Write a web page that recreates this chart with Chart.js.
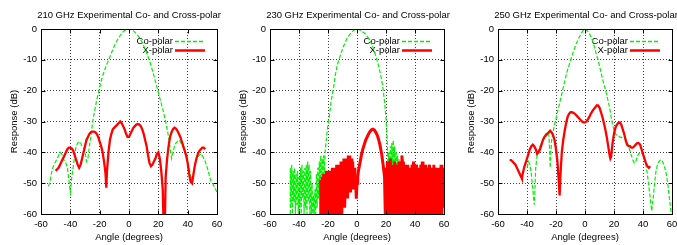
<!DOCTYPE html>
<html>
<head>
<meta charset="utf-8">
<script src="https://cdn.jsdelivr.net/npm/chart.js@4"></script>
<style>
  body { margin: 0; width: 677px; height: 245px; overflow: hidden; background: #fff; position: relative; }
  canvas { position: absolute; top: 0; }
</style>
</head>
<body>
<canvas id="c210" width="258" height="245" style="left:0px"></canvas>
<canvas id="c230" width="258" height="245" style="left:229px"></canvas>
<canvas id="c250" width="258" height="245" style="left:457px"></canvas>
<script>
'use strict';

// AXES
const angleRange = [-60, 60];
const dbRange = [-60, 0];
const panelTitles = [
  '210 GHz Experimental Co- and Cross-polar',
  '230 GHz Experimental Co- and Cross-polar',
  '250 GHz Experimental Co- and Cross-polar'
];
const seriesNames = ['Co-polar', 'X-polar'];

// DATA: [angle (deg), response (dB)]
const co210 = [[-55,-51],[-54,-50],[-53,-47],[-52,-45],[-51,-44],[-50,-43],[-49,-42],[-48,-41],[-47,-40],[-46,-40.5],[-45,-41.5],[-44,-43],[-43,-43.5],[-42,-45],[-41,-49],[-40,-53],[-39,-48],[-38,-44.5],[-37,-41],[-36,-38],[-35,-37],[-34,-36.5],[-33,-37],[-32,-38],[-31,-38.5],[-30,-40],[-29,-43],[-28,-42],[-27,-38],[-26,-35],[-25,-31],[-24,-28],[-23,-25.5],[-22,-23],[-21,-21],[-20,-19],[-19,-17],[-18,-15.3],[-17,-13.8],[-16,-12.5],[-15,-11.3],[-14,-10.2],[-13,-9],[-12,-7.8],[-11,-6.6],[-10,-5.5],[-9,-4.5],[-8,-3.6],[-7,-2.9],[-6,-2.1],[-5,-1.5],[-4,-0.9],[-3,-0.5],[-2,-0.2],[-1,0],[0,0],[1,-0.1],[2,-0.3],[3,-0.6],[4,-1],[5,-1.5],[6,-2.1],[7,-2.7],[8,-3.5],[9,-4.4],[10,-5.4],[11,-6.5],[12,-7.7],[13,-9],[14,-10.3],[15,-11.8],[16,-13.5],[17,-15.2],[18,-17],[19,-18.8],[20,-20.6],[21,-22.4],[22,-24.2],[23,-26],[24,-28],[25,-30],[26,-32.5],[27,-35],[28,-38.5],[29,-42],[30,-40],[31,-38],[32,-37],[33,-36.5],[34,-36],[35,-36.5],[36,-37.5],[37,-38.5],[38,-40],[39,-41.5],[40,-43],[41,-45],[42,-47.5],[43,-49],[44,-46.5],[45,-44],[46,-42.5],[47,-41.5],[48,-41],[49,-40.5],[50,-41],[51,-42],[52,-43],[53,-44.5],[54,-46],[55,-48],[56,-49.5],[57,-50],[58,-51],[59,-52],[60,-53]];
const x210 = [[-50,-46],[-49,-45.5],[-48,-45],[-47,-44],[-46,-43],[-45,-42],[-44,-41],[-43,-40],[-42,-39],[-41,-38.5],[-40,-38.5],[-39,-38.8],[-38,-39.5],[-37,-41],[-36,-42.5],[-35,-44],[-34,-45],[-33,-44],[-32,-42],[-31,-40],[-30,-38],[-29,-36],[-28,-35],[-27,-34],[-26,-33.5],[-25,-33.3],[-24,-33.3],[-23,-33.5],[-22,-34],[-21,-35],[-20,-36.5],[-19,-38],[-18,-40],[-17,-43],[-16,-47],[-15.5,-51.5],[-15,-46],[-14,-40],[-13,-36],[-12,-34],[-11,-32.5],[-10,-32],[-9,-31.5],[-8,-31],[-7,-30.5],[-6,-30],[-5,-30.5],[-4,-31.5],[-3,-32.5],[-2,-34],[-1,-35],[0,-35],[1,-34],[2,-33],[3,-32],[4,-31.5],[5,-31],[6,-30.8],[7,-31],[8,-31.5],[9,-32.5],[10,-34],[11,-36],[12,-38],[13,-41],[14,-43.5],[15,-44.5],[16,-44],[17,-43],[18,-42],[19,-40.5],[20,-40],[21,-42],[22,-46],[23,-52],[23.5,-62],[24.5,-62],[25,-48],[26,-42],[27,-38],[28,-35],[29,-33.5],[30,-32.5],[31,-32],[32,-32.3],[33,-33],[34,-34],[35,-35],[36,-36.5],[37,-38],[38,-39.5],[39,-41],[40,-43.5],[41,-47],[42,-49.5],[43,-50],[44,-47],[45,-44],[46,-42],[47,-40.5],[48,-39.5],[49,-39],[50,-38.5],[51,-38.5],[52,-39]];

const co230 = [[-46,-60],[-46,-45],[-45.5,-58],[-45,-44],[-44.5,-60],[-44,-46],[-43.5,-56],[-43,-45],[-42.5,-60],[-42,-47],[-41.5,-57],[-41,-46],[-40.5,-60],[-40,-48],[-39.5,-58],[-39,-45],[-38.5,-60],[-38,-44],[-37.5,-55],[-37,-46],[-36.5,-60],[-36,-45],[-35.5,-58],[-35,-44],[-34.5,-60],[-34,-43],[-33.5,-56],[-33,-44],[-32.5,-60],[-32,-46],[-31.5,-60],[-31,-50],[-30.5,-60],[-30,-54],[-29.5,-60],[-29,-52],[-28.5,-60],[-28,-47],[-27.5,-58],[-27,-45],[-26.5,-55],[-26,-43],[-25.5,-54],[-25,-41],[-24.5,-52],[-24,-42],[-23.5,-50],[-23,-41],[-22.5,-48],[-22,-40],[-21,-35],[-20,-31],[-19,-28],[-18,-24],[-17,-21],[-16,-18.5],[-15,-15],[-14,-12.7],[-13,-10.7],[-12,-9.3],[-11,-7.9],[-10,-6.5],[-9,-5.3],[-8,-4.2],[-7,-3.2],[-6,-2.4],[-5,-1.8],[-4,-1.2],[-3,-0.7],[-2,-0.3],[-1,-0.1],[0,0],[1,-0.1],[2,-0.3],[3,-0.6],[4,-1],[5,-1.3],[6,-1.7],[7,-2.3],[8,-3],[9,-3.9],[10,-4.8],[11,-6],[12,-7.3],[13,-8.8],[14,-10.5],[15,-12.2],[16,-14.2],[17,-16.5],[18,-19.5],[19,-23.5],[20,-29],[20.5,-33],[21,-38],[21.5,-46],[22,-40],[22.5,-48],[23,-38],[23.5,-45],[24,-37],[24.5,-44],[25,-36],[25.5,-45],[26,-38],[26.5,-47],[27,-40],[27.5,-50],[28,-41],[28.5,-52],[29,-42],[29.5,-55],[30,-43],[30.5,-54],[31,-41],[31.5,-56],[32,-42],[32.5,-58],[33,-45],[33.5,-60],[34,-46],[34.5,-60],[35,-48],[35.5,-60],[36,-50],[36.5,-60],[37,-52],[37.5,-60],[38,-51],[38.5,-60],[39,-53],[39.5,-60],[40,-52],[40.5,-60],[41,-50],[41.5,-58],[42,-51],[42.5,-60],[43,-52],[43.5,-60],[44,-54],[44.5,-60],[45,-55],[45.5,-60],[46,-56],[46.5,-60],[47,-55],[47.5,-60],[48,-57],[48.5,-60],[49,-56],[49.5,-60],[50,-58]];
const x230 = [[-25,-60],[-25,-49],[-24.5,-60],[-24,-48],[-23.5,-60],[-23,-47],[-22.5,-58],[-22,-48],[-21.5,-60],[-21,-46],[-20.5,-60],[-20,-47],[-19.5,-57],[-19,-46],[-18.5,-60],[-18,-47],[-17.5,-60],[-17,-45],[-16.5,-58],[-16,-46],[-15.5,-60],[-15,-45],[-14.5,-60],[-14,-44],[-13.5,-59],[-13,-45],[-12.5,-60],[-12,-44],[-11.5,-57],[-11,-43],[-10.5,-60],[-10,-44],[-9.5,-56],[-9,-42],[-8.5,-58],[-8,-43],[-7.5,-54],[-7,-42],[-6.5,-55],[-6,-41],[-5.5,-52],[-5,-41],[-4.5,-53],[-4,-42],[-3.5,-50],[-3,-43],[-2.5,-52],[-2,-45],[-1.5,-50],[-1,-48],[-0.5,-55],[0,-50],[0.5,-48],[1,-46],[2,-43.5],[3,-41],[4,-39],[5,-37.5],[6,-36],[7,-35],[8,-34],[9,-33.2],[10,-32.7],[11,-32.5],[12,-32.8],[13,-33.5],[14,-34.5],[15,-36],[16,-38],[17,-40.5],[18,-44],[19,-48],[19.5,-60],[20,-45],[20.5,-60],[21,-43],[21.5,-56],[22,-44],[22.5,-60],[23,-42],[23.5,-54],[24,-44],[24.5,-60],[25,-45],[25.5,-58],[26,-43],[26.5,-60],[27,-44],[27.5,-55],[28,-45],[28.5,-60],[29,-43],[29.5,-57],[30,-44],[30.5,-60],[31,-41],[31.5,-53],[32,-43],[32.5,-60],[33,-44],[33.5,-58],[34,-45],[34.5,-60],[35,-44],[35.5,-54],[36,-46],[36.5,-60],[37,-45],[37.5,-52],[38,-44],[38.5,-60],[39,-43],[39.5,-56],[40,-45],[40.5,-60],[41,-44],[41.5,-51],[42,-46],[42.5,-60],[43,-45],[43.5,-55],[44,-44],[44.5,-60],[45,-43],[45.5,-53],[46,-45],[46.5,-60],[47,-44],[47.5,-56],[48,-46],[48.5,-60],[49,-45],[49.5,-52],[50,-44],[50.5,-60],[51,-46],[51.5,-57],[52,-45],[52.5,-60],[53,-44],[53.5,-54],[54,-46],[54.5,-60],[55,-45],[55.5,-56],[56,-47],[56.5,-60],[57,-45],[57.5,-53],[58,-44],[58.5,-60],[59,-45],[59.5,-58],[60,-46]];

const co250 = [[-40,-45],[-39,-43],[-38,-44],[-37,-47],[-36,-52],[-35,-57],[-34.5,-52],[-34,-45],[-33,-41],[-32,-39],[-31,-38],[-30,-37],[-29,-36],[-28,-35],[-27,-34],[-26,-33.5],[-25,-34],[-24.5,-38],[-24,-45],[-23.5,-40],[-23,-36],[-22,-33.5],[-21,-31],[-20,-29],[-19,-27],[-18,-25],[-17,-23],[-16,-21],[-15,-19],[-14,-17],[-13,-15],[-12,-13.2],[-11,-11.7],[-10,-10.3],[-9,-8.8],[-8,-7.3],[-7,-6],[-6,-4.8],[-5,-3.7],[-4,-2.7],[-3,-1.8],[-2,-1],[-1,-0.4],[0,0],[1,-0.3],[2,-0.8],[3,-1.5],[4,-2.4],[5,-3.5],[6,-5],[7,-6.7],[8,-8.5],[9,-10],[10,-12],[11,-14],[12,-16],[13,-17.8],[14,-19.5],[15,-21.5],[16,-23.5],[17,-25.6],[18,-28.5],[19,-31],[20,-32.8],[21,-34],[22,-34.5],[23,-34.8],[24,-35],[25,-35.2],[26,-35],[27,-35.2],[28,-35.5],[29,-36.5],[30,-38],[31,-39.5],[32,-41],[33,-42.5],[34,-43.5],[35,-43],[36,-41.5],[37,-40.5],[38,-40],[39,-40],[40,-41],[41,-42.5],[42,-44],[43,-47],[44,-51],[45,-55],[46,-59],[47,-55],[48,-50],[49,-46],[50,-44],[51,-43],[52,-42.5],[53,-42.5],[54,-43.5],[55,-45],[56,-47],[57,-50],[58,-54],[59,-58],[60,-61]];
const x250 = [[-52,-42.5],[-51,-42.5],[-50,-43],[-49,-43.5],[-48,-44],[-47,-45],[-46,-46],[-45,-47],[-44,-48],[-43.5,-48.5],[-43,-47],[-42,-45],[-41,-43.5],[-40,-42],[-39,-40.5],[-38,-39],[-37,-38],[-36,-37.5],[-35,-38],[-34,-39],[-33,-40.5],[-32,-40],[-31,-39],[-30,-37.5],[-29,-36],[-28,-35],[-27,-34.5],[-26,-34],[-25,-33.5],[-24,-33],[-23,-33.5],[-22,-34.5],[-21,-36],[-20,-39],[-19,-43],[-18,-50],[-17.5,-54],[-17,-48],[-16,-40],[-15,-36],[-14,-33],[-13,-30.5],[-12,-28.5],[-11,-27.5],[-10,-27],[-9,-27],[-8,-27.2],[-7,-27.5],[-6,-28],[-5,-28.5],[-4,-29],[-3,-29.5],[-2,-30],[-1,-30.3],[0,-30.3],[1,-30],[2,-29.3],[3,-28.5],[4,-27.5],[5,-26.7],[6,-26],[7,-25.5],[8,-24.8],[9,-24.8],[10,-25.5],[11,-27],[12,-28.5],[13,-30.5],[14,-32.5],[15,-35],[16,-38],[17,-41],[17.5,-42],[18,-41.5],[19,-37],[20,-34],[21,-32],[22,-31],[23,-30.5],[24,-30.3],[25,-31],[26,-32.5],[27,-34],[28,-36],[29,-37.5],[30,-38],[31,-38],[32,-38.5],[33,-38.5],[34,-38],[35,-37.5],[36,-37],[37,-37],[38,-37.5],[39,-39],[40,-40.5],[41,-42],[42,-43.5],[43,-44.5],[44,-45],[45,-44.5]];

// STYLE
const FONT = { family: '"Liberation Sans", Arial, Helvetica, sans-serif', size: 9.5, weight: 'normal' };
const GREEN = '#00f000';
const RED = '#ff0000';
const GRID = 'rgba(0,0,0,0.75)';

// draws the gnuplot style key, frame and inward ticks
const framePlugin = {
  id: 'frame',
  beforeDatasetsDraw(chart) {
    const ctx = chart.ctx;
    const a = chart.chartArea;
    ctx.save();
    ctx.font = FONT.size + 'px ' + FONT.family;
    ctx.textAlign = 'right';
    ctx.textBaseline = 'middle';
    chart.data.datasets.forEach((ds, i) => {
      const y = Math.round(a.top + 12 + i * 9) + 0.5;
      ctx.fillStyle = '#000';
      ctx.fillText(ds.label, a.right - 44, y);
      ctx.strokeStyle = ds.borderColor;
      ctx.lineWidth = i === 0 ? 1.3 : 2.5;
      ctx.setLineDash(ds.borderDash || []);
      ctx.beginPath();
      ctx.moveTo(a.right - 42, y);
      ctx.lineTo(a.right - 12, y);
      ctx.stroke();
    });
    ctx.restore();
  },
  afterDatasetsDraw(chart) {
    const ctx = chart.ctx;
    const a = chart.chartArea;
    const l = Math.round(a.left) + 0.5, r = Math.round(a.right) + 0.5;
    const t = Math.round(a.top) + 0.5, b = Math.round(a.bottom) + 0.5;
    ctx.save();
    ctx.strokeStyle = '#000';
    ctx.lineWidth = 1;
    ctx.setLineDash([]);
    ctx.beginPath();
    chart.scales.x.ticks.forEach(tk => {
      const px = Math.round(chart.scales.x.getPixelForValue(tk.value)) + 0.5;
      ctx.moveTo(px, b); ctx.lineTo(px, b - 4);
      ctx.moveTo(px, t); ctx.lineTo(px, t + 4);
    });
    chart.scales.y.ticks.forEach(tk => {
      const py = Math.round(chart.scales.y.getPixelForValue(tk.value)) + 0.5;
      ctx.moveTo(l, py); ctx.lineTo(l + 4, py);
      ctx.moveTo(r, py); ctx.lineTo(r - 4, py);
    });
    ctx.stroke();
    ctx.strokeRect(l, t, r - l, b - t);
    ctx.restore();
  }
};

function toPoints(pairs) {
  return pairs.map(p => ({ x: p[0], y: p[1] }));
}

function makeChart(id, title, co, xp, rightSpace, xWidth) {
  new Chart(document.getElementById(id), {
    type: 'line',
    data: {
      datasets: [{
        label: seriesNames[0],
        data: toPoints(co),
        borderColor: GREEN,
        borderWidth: 1.2,
        borderDash: [4, 2],
        order: 2,
        clip: 0
      },
      {
        label: seriesNames[1],
        data: toPoints(xp),
        borderColor: RED,
        borderWidth: xWidth,
        order: 1,
        clip: 0
      }]
    },
    options: {
      responsive: false,
      animation: false,
      devicePixelRatio: 1,
      layout: { padding: 0 },
      elements: { point: { radius: 0 }, line: { tension: 0 } },
      plugins: {
        legend: { display: false },
        tooltip: { enabled: false },
        title: {
          display: true,
          text: title,
          color: '#000',
          font: FONT,
          padding: { top: 9.5, bottom: 8.1 }
        }
      },
      scales: {
        x: {
          type: 'linear',
          min: angleRange[0],
          max: angleRange[1],
          ticks: { stepSize: 20, color: '#000', font: FONT, padding: 5, maxRotation: 0, autoSkip: false },
          grid: { color: GRID, drawTicks: false, lineWidth: 1 },
          border: { display: false, dash: [1, 2] },
          title: { display: true, text: 'Angle (degrees)', color: '#000', font: FONT, padding: { top: 0, bottom: 2 } },
          afterFit: s => { s.height = 31; }
        },
        y: {
          type: 'linear',
          min: dbRange[0],
          max: dbRange[1],
          ticks: { stepSize: 10, color: '#000', font: FONT, padding: 4 },
          grid: { color: GRID, drawTicks: false, lineWidth: 1 },
          border: { display: false, dash: [1, 2] },
          title: { display: true, text: 'Response (dB)', color: '#000', font: FONT, padding: { top: 9, bottom: 0 } },
          afterFit: s => { s.width = 41; }
        },
        // empty right-hand axis, keeps the plot centred under its title
        yr: {
          type: 'linear',
          position: 'right',
          display: true,
          ticks: { display: false },
          grid: { display: false },
          border: { display: false },
          afterFit: s => { s.width = rightSpace; }
        }
      }
    },
    plugins: [framePlugin]
  });
}

makeChart('c210', panelTitles[0], co210, x210, 41, 2.3);
makeChart('c230', panelTitles[1], co230, x230, 43, 3);
makeChart('c250', panelTitles[2], co250, x250, 43, 2.3);
</script>
</body>
</html>
